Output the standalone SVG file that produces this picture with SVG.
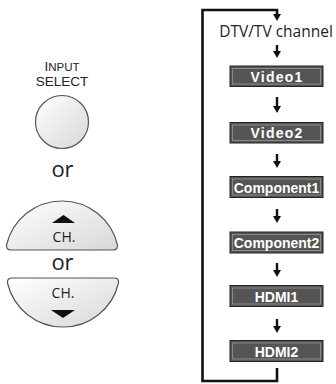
<svg xmlns="http://www.w3.org/2000/svg" width="336" height="384" viewBox="0 0 336 384">
<defs>
<linearGradient id="btn" x1="0" y1="0" x2="1" y2="1">
<stop offset="0" stop-color="#ffffff"/>
<stop offset="1" stop-color="#d8d8d8"/>
</linearGradient>
<path id="head" d="M-4,-7 L4,-7 L0,0 Z" fill="#111"/>
</defs>
<style>
.hum{font-family:"Open Sans","Noto Sans","DejaVu Sans",sans-serif;fill:#222}
.sel{font-family:"Liberation Sans",Arial,sans-serif;fill:#222}
.mid{text-anchor:middle}
.btn{fill:url(#btn);stroke:#555;stroke-width:1.2}
.box{fill:#555;stroke:#222;stroke-width:1}
.inner{fill:none;stroke:#8a8a8a;stroke-width:1}
.lbl{font-family:"Liberation Sans",Arial,sans-serif;font-weight:bold;font-size:14px;fill:#fff;text-anchor:middle}
.shaft{stroke:#111;stroke-width:2.4;fill:none}
.loop{stroke:#111;stroke-width:2.6;fill:none}
</style>

<g id="input-select">
<text class="sel mid" x="62" y="70.5" font-size="11.5"><tspan font-size="13.5">I</tspan>NPUT</text>
<text class="sel mid" x="62" y="86" font-size="13.5">SELECT</text>
<circle class="btn" cx="62" cy="122" r="26.5"/>
</g>
<g id="or1"><text class="hum mid" x="62.5" y="177" font-size="22">or</text></g>
<g id="ch-up">
<path class="btn" d="M11,250 H113 Q118,250 117.5,245 A57,57 0 0 0 6.5,245 Q6,250 11,250 Z"/>
<path d="M52,223 L63.5,215 L75,223 Z" fill="#111"/>
<text class="hum mid" x="64" y="242" font-size="14">CH.</text>
</g>
<g id="or2"><text class="hum mid" x="62.5" y="270" font-size="22">or</text></g>
<g id="ch-down">
<path class="btn" d="M12,278 H114 Q119,278 118.5,283 A57,57 0 0 1 7.5,283 Q7,278 12,278 Z"/>
<path d="M51,310 L75,310 L63,318 Z" fill="#111"/>
<text class="hum mid" x="63" y="298" font-size="14">CH.</text>
</g>

<g id="dtv"><text class="hum mid" x="276" y="37" font-size="15.5">DTV/TV channel</text></g>
<g id="video1"><rect class="box" x="230" y="66" width="93" height="20.5"/><rect class="inner" x="232.5" y="68.5" width="88" height="15.5"/><text class="lbl" x="277" y="81.5" letter-spacing="1.2">Video1</text></g>
<g id="video2"><rect class="box" x="230" y="122.5" width="93" height="20.5"/><rect class="inner" x="232.5" y="125" width="88" height="15.5"/><text class="lbl" x="277" y="138" letter-spacing="1.2">Video2</text></g>
<g id="component1"><rect class="box" x="230" y="176.5" width="93" height="21"/><rect class="inner" x="232.5" y="179" width="88" height="16"/><text class="lbl" x="276.5" y="192.5">Component1</text></g>
<g id="component2"><rect class="box" x="230" y="232" width="93" height="21"/><rect class="inner" x="232.5" y="234.5" width="88" height="16"/><text class="lbl" x="276.5" y="248">Component2</text></g>
<g id="hdmi1"><rect class="box" x="230" y="285.5" width="93" height="21"/><rect class="inner" x="232.5" y="288" width="88" height="16"/><text class="lbl" x="276.5" y="301.5">HDMI1</text></g>
<g id="hdmi2"><rect class="box" x="230" y="340.5" width="93" height="21"/><rect class="inner" x="232.5" y="343" width="88" height="16"/><text class="lbl" x="276.5" y="356.5">HDMI2</text></g>

<g id="connectors">
<path class="loop" d="M277,368 V381 H202.5 V10 H277 V15"/>
<use href="#head" x="277" y="21"/>
<line class="shaft" x1="277" y1="45" x2="277" y2="52"/><use href="#head" x="277" y="58"/>
<line class="shaft" x1="277" y1="97" x2="277" y2="107"/><use href="#head" x="277" y="113"/>
<line class="shaft" x1="277" y1="154" x2="277" y2="162"/><use href="#head" x="277" y="168"/>
<line class="shaft" x1="277" y1="209" x2="277" y2="217"/><use href="#head" x="277" y="223"/>
<line class="shaft" x1="277" y1="263" x2="277" y2="271"/><use href="#head" x="277" y="277"/>
<line class="shaft" x1="277" y1="319" x2="277" y2="327"/><use href="#head" x="277" y="333"/>
</g>
</svg>
